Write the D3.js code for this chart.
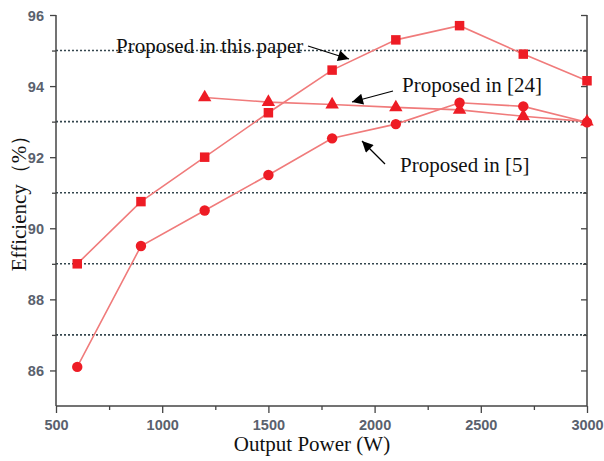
<!DOCTYPE html>
<html>
<head>
<meta charset="utf-8">
<script src="https://cdn.jsdelivr.net/npm/d3@7"></script>
<style>
  body { margin: 0; background: #fff; }
  .tick-label { font-family: "Liberation Sans", Arial, sans-serif; font-weight: bold; font-size: 14.5px; fill: #5a616d; }
  .title { font-family: "Liberation Serif", "Times New Roman", serif; fill: #111; }
</style>
</head>
<body>
<svg id="chart" width="604" height="461"></svg>
<script>
// DATA
const power = [600, 900, 1200, 1500, 1800, 2100, 2400, 2700, 3000];
const effThisPaper = [89.0, 90.75, 92.0, 93.25, 94.45, 95.3, 95.7, 94.9, 94.15];
const power24 = [1200, 1500, 1800, 2100, 2400, 2700, 3000];
const eff24 = [93.68, 93.55, 93.48, 93.4, 93.33, 93.15, 93.0];
const eff5 = [86.1, 89.5, 90.5, 91.5, 92.53, 92.93, 93.53, 93.43, 92.98];

const xTicks = [500, 1000, 1500, 2000, 2500, 3000];
const xMinor = [750, 1250, 1750, 2250, 2750];
const yTicks = [86, 88, 90, 92, 94, 96];
const yMinor = [87, 89, 91, 93, 95];
const gridLines = [87, 89, 91, 93, 95];

const svg = d3.select("#chart");

// scales
const x = d3.scaleLinear().domain([500, 3000]).range([56, 587]);
const y = d3.scaleLinear().domain([85, 96]).range([406, 15]);

// dotted grid lines
svg.append("g").selectAll("line")
  .data(gridLines)
  .join("line")
  .attr("x1", x(500)).attr("x2", x(3000))
  .attr("y1", d => y(d)).attr("y2", d => y(d))
  .attr("stroke", "#34464e")
  .attr("stroke-width", 1.6)
  .attr("stroke-dasharray", "2,2");

// axes
const axisColor = "#444";
const xAxis = svg.append("g").attr("transform", `translate(0,${y(85)})`)
  .call(d3.axisBottom(x).tickValues(xTicks).tickSize(7).tickFormat(d3.format("d")));
svg.append("g").attr("transform", `translate(0,${y(85)})`)
  .call(d3.axisBottom(x).tickValues(xMinor).tickSize(4).tickFormat(""))
  .call(g => g.select(".domain").remove());

const yAxis = svg.append("g").attr("transform", `translate(${x(500)},0)`)
  .call(d3.axisLeft(y).tickValues(yTicks).tickSize(6));
svg.append("g").attr("transform", `translate(${x(500)},0)`)
  .call(d3.axisLeft(y).tickValues(yMinor).tickSize(4).tickFormat(""))
  .call(g => g.select(".domain").remove());

const yRight = svg.append("g").attr("transform", `translate(${x(3000)},0)`)
  .call(d3.axisRight(y).tickValues(yTicks).tickSize(-6).tickFormat(""));
svg.append("g").attr("transform", `translate(${x(3000)},0)`)
  .call(d3.axisRight(y).tickValues(yMinor).tickSize(-4).tickFormat(""))
  .call(g => g.select(".domain").remove());

svg.selectAll(".domain").attr("stroke", axisColor).attr("stroke-width", 1.5);
svg.selectAll(".tick line").attr("stroke", axisColor).attr("stroke-width", 1.3);

xAxis.selectAll("text").attr("class", "tick-label").attr("dy", null).attr("y", 24);
yAxis.selectAll("text").attr("class", "tick-label").attr("x", -12).attr("dy", "0.36em");
// plain domains without end caps
xAxis.select(".domain").attr("d", `M${x(500)},0H${x(3000)}`);
yAxis.select(".domain").attr("d", `M0,${y(85)}V${y(96)}`);
yRight.select(".domain").attr("d", `M0,${y(85)}V${y(96)}`);

// series lines
const lineColor = "#f07b7b";
const markColor = "#ee1c25";
const line = d3.line().x(d => x(d[0])).y(d => y(d[1]));

const series = [
  { px: power, py: effThisPaper, sym: d3.symbolSquare, size: 90 },
  { px: power24, py: eff24, sym: d3.symbolTriangle, size: 78 },
  { px: power, py: eff5, sym: d3.symbolCircle, size: 85 }
];

series.forEach(s => {
  const pts = s.px.map((p, i) => [p, s.py[i]]);
  svg.append("path")
    .datum(pts)
    .attr("d", line)
    .attr("fill", "none")
    .attr("stroke", lineColor)
    .attr("stroke-width", 1.6);
  svg.append("g").selectAll("path")
    .data(pts)
    .join("path")
    .attr("transform", d => `translate(${x(d[0])},${y(d[1])})`)
    .attr("d", d3.symbol().type(s.sym).size(s.size))
    .attr("fill", markColor);
});

// annotations
svg.append("defs").append("marker")
  .attr("id", "arrow")
  .attr("viewBox", "0 0 10 10")
  .attr("refX", 10).attr("refY", 5)
  .attr("markerWidth", 17).attr("markerHeight", 11)
  .attr("markerUnits", "userSpaceOnUse")
  .attr("orient", "auto")
  .append("path")
  .attr("d", "M0,0L10,5L0,10Z")
  .attr("fill", "#000");

const arrows = [
  [308, 46, 349, 59],
  [393, 91, 352, 102],
  [385, 164, 362, 141]
];
svg.append("g").selectAll("line")
  .data(arrows)
  .join("line")
  .attr("x1", d => d[0]).attr("y1", d => d[1])
  .attr("x2", d => d[2]).attr("y2", d => d[3])
  .attr("stroke", "#000")
  .attr("stroke-width", 1.2)
  .attr("marker-end", "url(#arrow)");

const notes = [
  { t: "Proposed in this paper", x: 116, y: 53 },
  { t: "Proposed in [24]", x: 402, y: 92 },
  { t: "Proposed in [5]", x: 400, y: 172 }
];
svg.append("g").selectAll("text")
  .data(notes)
  .join("text")
  .attr("class", "title")
  .attr("x", d => d.x).attr("y", d => d.y)
  .style("font-size", "21px")
  .text(d => d.t);

// axis titles
svg.append("text")
  .attr("class", "title")
  .attr("x", 312).attr("y", 451)
  .attr("text-anchor", "middle")
  .style("font-size", "21px")
  .text("Output Power (W)");

svg.append("text")
  .attr("class", "title")
  .attr("transform", "translate(26,198) rotate(-90)")
  .attr("text-anchor", "middle")
  .style("font-size", "21px")
  .text("Efficiency（%）");
</script>
</body>
</html>
